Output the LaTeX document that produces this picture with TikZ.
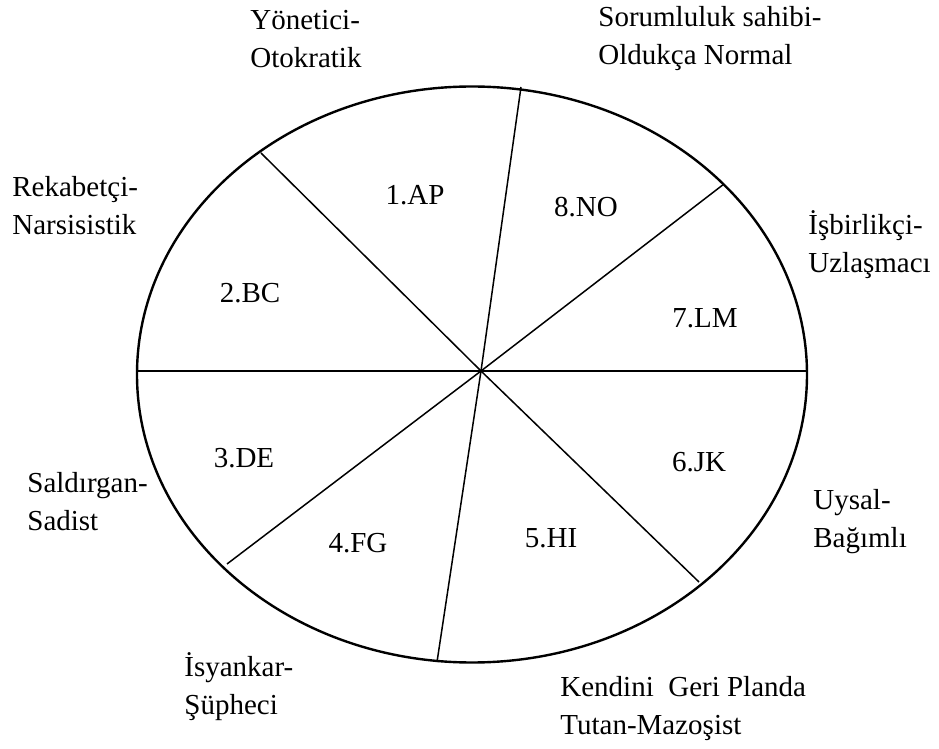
\documentclass[tikz,border=0pt]{standalone}
\usepackage{fontspec}
\setmainfont{Liberation Serif}
\begin{document}
\begin{tikzpicture}[x=0.5pt, y=-0.5pt,
    spoke/.style={line width=0.75pt, black},
    sector/.style={inner sep=0pt, font=\fontsize{14.5}{19}\selectfont},
    kind/.style={inner sep=0pt, anchor=west, align=left, font=\fontsize{14.5}{19}\selectfont}]
    \useasboundingbox (0,0) rectangle (939,749);

    % Ellipse
    \draw[line width=1.2pt] (472,374.5) ellipse [x radius=167.5pt, y radius=144pt];

    % Spokes from the centre
    \coordinate (o) at (481,371);
    \foreach \n/\x/\y in {p1/521/87, p2/261/153, p4/227/564, p5/437/662, p6/699/582, p8/724/184} {
        \coordinate (\n) at (\x,\y);
        \draw[spoke] (o) -- (\n);
    }
    \coordinate (p3) at (138,371);
    \coordinate (p7) at (808,371);
    \draw[spoke, line width=1pt] (o) -- (p3);
    \draw[spoke, line width=1pt] (o) -- (p7);

    % Sector labels
    \foreach \n/\x/\y/\t in {s1/415/195/1.AP, s2/250/293/2.BC, s3/244/458/3.DE, s4/358/543/4.FG,
                            s5/551/538/5.HI, s6/699/462/6.JK, s7/705/318/7.LM, s8/586/207/8.NO} {
        \node[sector] (\n) at (\x,\y) {\t};
    }

    % Type names round the ellipse
    \node[kind] (k1) at (250,39) {Yönetici-\\Otokratik};
    \node[kind] (k8) at (598,39) {Sorumluluk sahibi-\\Oldukça Normal};
    \node[kind] (k2) at (12,206) {Rekabetçi-\\Narsisistik};
    \node[kind] (k7) at (808,245) {İşbirlikçi-\\Uzlaşmacı};
    \node[kind] (k3) at (27,502) {Saldırgan-\\Sadist};
    \node[kind] (k6) at (813,522) {Uysal-\\Bağımlı};
    \node[kind] (k4) at (184,687) {İsyankar-\\Şüpheci};
    \node[kind] (k5) at (560,709) {Kendini\ \ Geri Planda\\Tutan-Mazoşist};
\end{tikzpicture}
\end{document}
